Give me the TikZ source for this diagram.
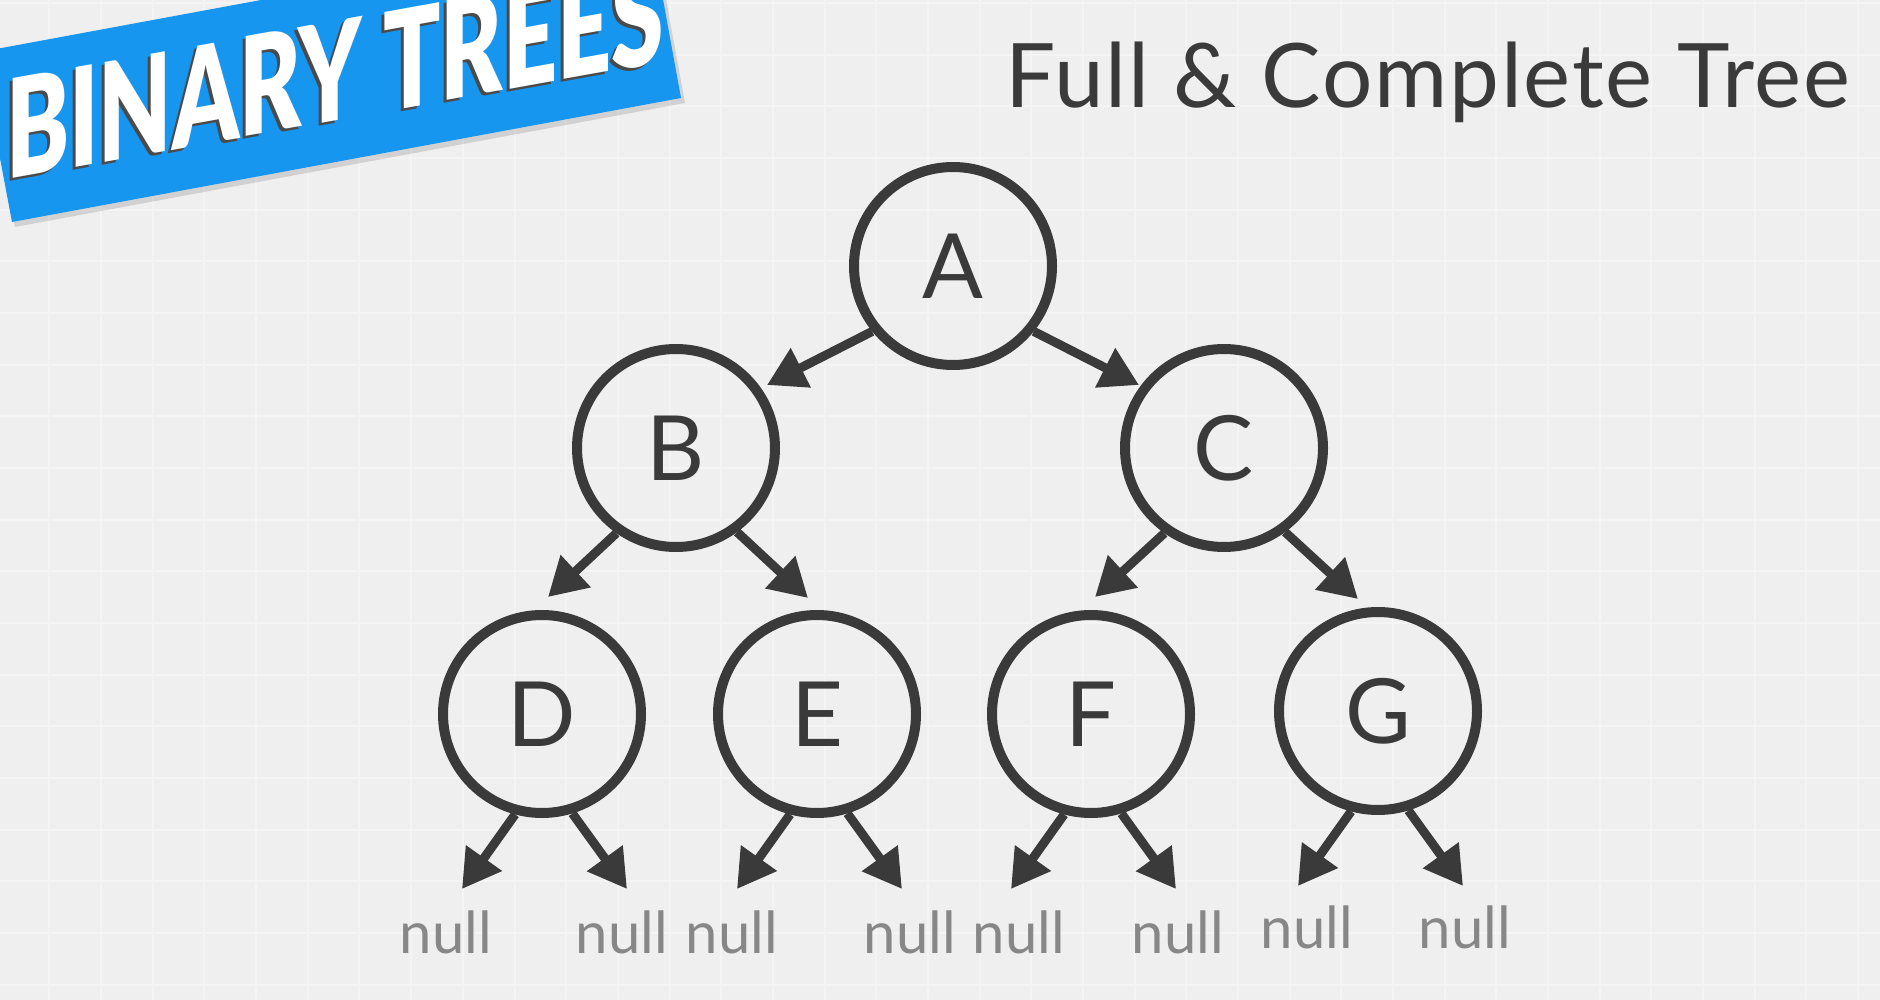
\documentclass[tikz,border=0pt]{standalone}
\usepackage{fontspec}
\usepackage{graphicx}
\setmainfont{Lato}
\newfontfamily\titlefont[LetterSpace=2]{Lato}
\newfontfamily\bannerfont{Lato Black}
\usetikzlibrary{arrows.meta,calc}
\definecolor{bgc}{HTML}{EFEFEF}
\definecolor{gridc}{HTML}{F4F4F4}
\definecolor{ink}{HTML}{3A3A3A}
\definecolor{nullc}{HTML}{878787}
\definecolor{bannerblue}{HTML}{1796F0}
\definecolor{shadowc}{HTML}{4A4A4A}
\newcommand{\bannerlabel}{\scalebox{0.69}[1]{BINARY TREES}}
\begin{document}
\begin{tikzpicture}[x=1pt,y=-1pt,
  treenode/.style={circle, draw=ink, line width=10pt, minimum size=198pt, inner sep=0pt,
    font=\fontsize{90}{90}\selectfont, text=ink},
  link/.style={draw=ink, line width=9pt, -{Triangle[length=38pt,width=42pt]}},
  nulltext/.style={anchor=base, text=nullc, font=\fontsize{58}{58}\selectfont, inner sep=0pt},
  gridline/.style={draw=gridc, line width=2pt},
  bannertext/.style={yslant=0.18, anchor=base west, inner sep=0pt,
    font=\bannerfont\fontsize{137}{137}\selectfont}]
\useasboundingbox (0,0) rectangle (1880,1000);
\fill[bgc] (0,0) rectangle (1880,1000);
\foreach \i in {0,...,37} { \draw[gridline] ({-2.2+51.67*\i},0) -- ({-2.2+51.67*\i},1000); }
\foreach \j in {0,...,20} { \draw[gridline] (0,{3+51.67*\j}) -- (1880,{3+51.67*\j}); }

% banner
\begin{scope}
\clip (0,0) rectangle (1880,1000);
\fill[black, opacity=0.12] (15,227) -- (685,103) -- (654,-67) -- (-17,57) -- cycle;
\fill[bannerblue] (12,222) -- (681,98) -- (650,-72) -- (-20,52) -- cycle;
\node[bannertext, text=shadowc] (bannershadow) at (3,183) {\bannerlabel};
\node[bannertext, text=white] (banner) at (6,180) {\bannerlabel};
\end{scope}

% title
\node[anchor=base west, inner sep=0pt, text=ink, font=\titlefont\fontsize{89}{89}\selectfont] (title) at (1005,108) {Full \& Complete Tree};

% tree nodes
\node[treenode] (A) at (953,266) {A};
\node[treenode] (B) at (676,448) {B};
\node[treenode] (C) at (1224,448) {C};
\node[treenode] (D) at (542,714) {D};
\node[treenode] (E) at (817,714) {E};
\node[treenode] (F) at (1091,714) {F};
\node[treenode] (G) at (1378,711) {G};

% arrow tips near children
\coordinate (tAB) at ($(B.center)+(91,-63)$);
\coordinate (tAC) at ($(C.center)+(-85,-63)$);
\coordinate (tBD) at ($(D.center)+(6,-117)$);
\coordinate (tBE) at ($(E.center)+(-9,-116)$);
\coordinate (tCF) at ($(F.center)+(4,-117)$);
\coordinate (tCG) at ($(G.center)+(-20,-112)$);

\draw[link] (A.219) -- (tAB);
\draw[link] (A.321) -- (tAC);
\draw[link] (B.235) -- (tBD);
\draw[link] (B.306) -- (tBE);
\draw[link] (C.235) -- (tCF);
\draw[link] (C.306) -- (tCG);

% null arrows
\foreach \n in {D,E,F,G} {
  \coordinate (\n L) at ($(\n.center)+(-80,175)$);
  \coordinate (\n R) at ($(\n.center)+(85,175)$);
  \draw[link] (\n.255) -- (\n L);
  \draw[link] (\n.287) -- (\n R);
}

% null labels
\node[nulltext] (nDL) at (446,953) {null};
\node[nulltext] (nDR) at (622,953) {null};
\node[nulltext] (nEL) at (732,953) {null};
\node[nulltext] (nER) at (910,953) {null};
\node[nulltext] (nFL) at (1019,953) {null};
\node[nulltext] (nFR) at (1178,953) {null};
\node[nulltext] (nGL) at (1307,948) {null};
\node[nulltext] (nGR) at (1465,948) {null};
\end{tikzpicture}
\end{document}
